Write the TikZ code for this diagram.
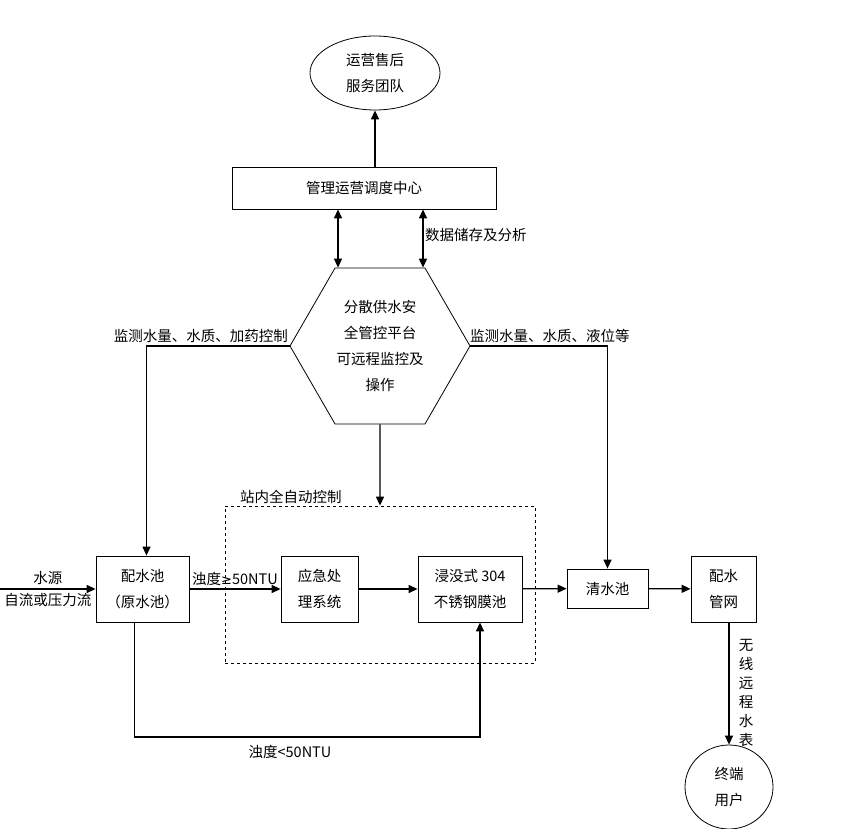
\documentclass[tikz,border=0pt]{standalone}
\usepackage{fontspec}
\setmainfont{Noto Sans CJK SC}
\newfontfamily\symfont{DejaVu Sans}
\usetikzlibrary{shapes.geometric,arrows.meta}

\begin{document}
\begin{tikzpicture}[x=1pt, y=-1pt,
    box/.style={draw, line width=0.8pt, inner sep=2pt, align=center, font=\fontsize{14.5}{26}\selectfont},
    lbl/.style={inner sep=1pt, font=\fontsize{14.5}{16}\selectfont},
    flow/.style={-{Triangle[length=9pt, width=8pt]}, line width=1.3pt},
    dflow/.style={{Triangle[length=9pt, width=8pt]}-{Triangle[length=9pt, width=8pt]}, line width=1.3pt}]
    \useasboundingbox (0,0) rectangle (867,829);

    \node [box, ellipse, minimum width=130, minimum height=74] (team) at (375,73) {运营售后\\服务团队};
    \node [box, rectangle, minimum width=264, minimum height=42] (mgmt) at (364,188) {管理运营调度中心};
    \node [box, regular polygon, regular polygon sides=6, inner sep=0pt, minimum size=180] (hub) at (380,346) {分散供水安\\全管控平台\\可远程监控及\\操作};

    \node [rectangle, draw, dashed, line width=0.8pt, minimum width=310, minimum height=157] (auto) at (380,584.5) {};

    \begin{scope}[every node/.append style={minimum height=66}]
        \node [box, rectangle, minimum width=93] (pool) at (142.5,589) {配水池\\（原水池）};
        \node [box, rectangle, minimum width=77] (emerg) at (319.5,589) {应急处\\理系统};
        \node [box, rectangle, minimum width=104] (memb) at (470,589) {浸没式 304\\不锈钢膜池};
        \node [box, rectangle, minimum width=65] (net) at (723.5,589) {配水\\管网};
    \end{scope}
    \node [box, rectangle, minimum width=81, minimum height=39] (clear) at (607.5,588.5) {清水池};
    \node [box, ellipse, minimum width=88, minimum height=84] (user) at (729,787) {终端\\用户};

    \coordinate (src) at (0,589);
    \coordinate (d1) at ([xshift=-26]mgmt.south);
    \coordinate (d2) at ([xshift=59]mgmt.south);
    \coordinate (b1) at ([xshift=-8]pool.south);
    \coordinate (b2) at ([xshift=10]memb.south);
    \coordinate (turn) at (300,737);
    \coordinate (p1) at ([xshift=4]pool.north);
    \coordinate (n1) at (net.south -| user.north);

    \begin{scope}[flow]
        \draw (mgmt.north -| team.south) -- (team.south);
        \draw (hub.west) -| (p1);
        \draw (hub.east) -| (clear.north);
        \draw (hub.south) -- (auto.north);
        \draw (src) -- node [lbl, above=3pt] (srcA) {水源} node [lbl, below=3pt] (srcB) {自流或压力流} (pool);
        \draw (pool) -- node [lbl, above=2pt] (hiT) {浊度{\symfont\fontsize{13}{16}\selectfont ≥}50NTU} (emerg);
        \draw (emerg) -- (memb);
        \draw (memb) -- (clear);
        \draw (clear) -- (net);
        \draw (n1) -- (user.north);
        \draw (b1) |- (turn) -| (b2);
    \end{scope}
    \draw [dflow] (d1) -- (d1 |- hub.north);
    \draw [dflow] (d2) -- (d2 |- hub.north);

    \node [lbl, anchor=west] (store) at (424,235) {数据储存及分析};
    \node [lbl, anchor=south east] (monL) at (289,344) {监测水量、水质、加药控制};
    \node [lbl, anchor=south west] (monR) at (469,344) {监测水量、水质、液位等};
    \node [lbl, anchor=south west] (autoT) at (239,505) {站内全自动控制};
    \node [lbl] (loT) at (290,752) {浊度<50NTU};
    \node [lbl, align=center, font=\fontsize{14.5}{19}\selectfont] (meter) at (746,693) {无\\线\\远\\程\\水\\表};
\end{tikzpicture}
\end{document}
